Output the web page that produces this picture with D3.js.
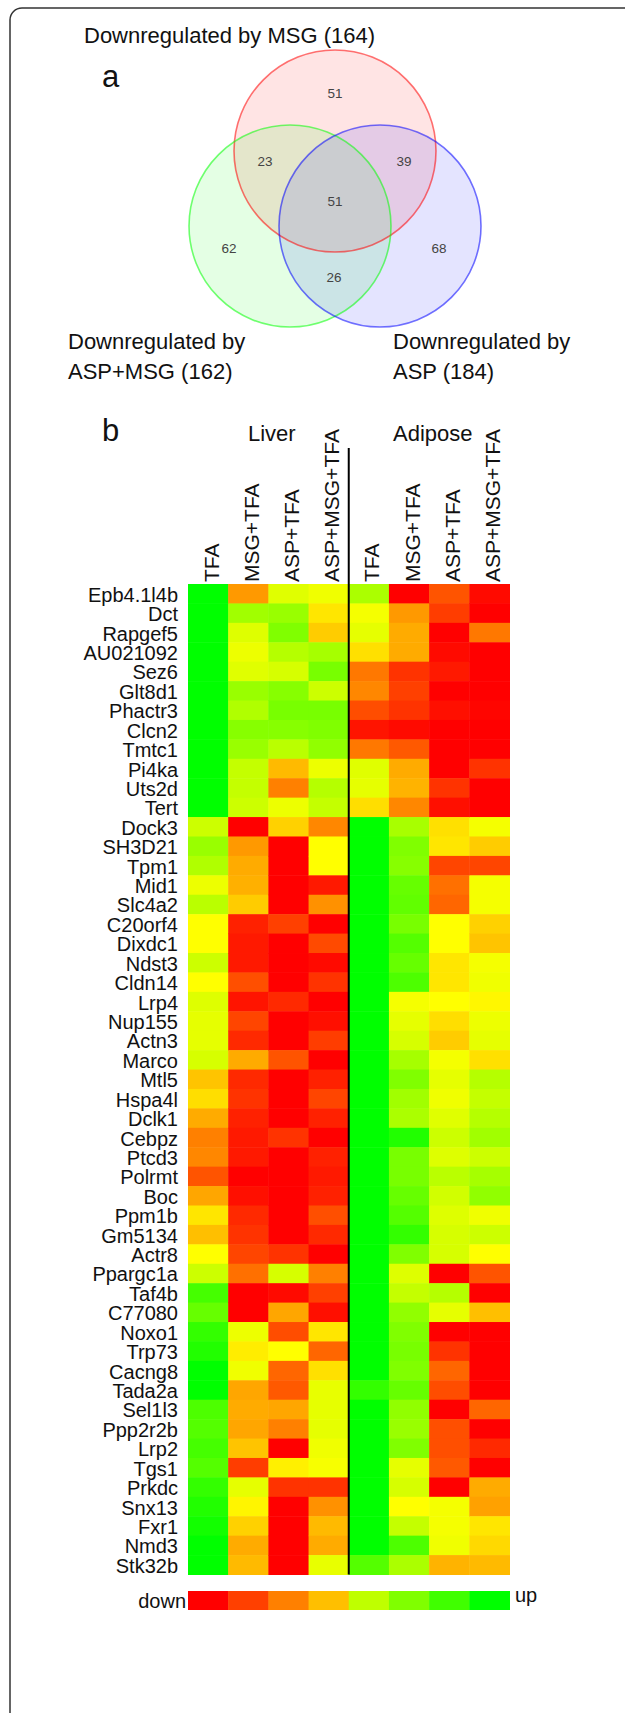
<!DOCTYPE html>
<html>
<head>
<meta charset="utf-8">
<script src="https://cdn.jsdelivr.net/npm/d3@7"></script>
<style>
  body { margin: 0; background: #fff; }
  svg text { font-family: "Liberation Sans", Arial, Helvetica, sans-serif; fill: #111; }
</style>
</head>
<body>
<svg id="chart" width="625" height="1713"></svg>
<script>
// ---- panel a : Venn counts ----
var vennSets = ["MSG", "ASP+MSG", "ASP"];
var vennTotals = [164, 162, 184];
// regions: MSG only, MSG&ASP+MSG, MSG&ASP, all, ASP+MSG only, ASP only, ASP+MSG&ASP
var vennRegions = ["m", "mg", "ma", "all", "g", "a", "ga"];
var vennCounts = [51, 23, 39, 51, 62, 68, 26];

// ---- panel b : heatmap ----
var genes = ["Epb4.1l4b", "Dct", "Rapgef5", "AU021092", "Sez6", "Glt8d1", "Phactr3", "Clcn2",
  "Tmtc1", "Pi4ka", "Uts2d", "Tert", "Dock3", "SH3D21", "Tpm1", "Mid1", "Slc4a2", "C20orf4",
  "Dixdc1", "Ndst3", "Cldn14", "Lrp4", "Nup155", "Actn3", "Marco", "Mtl5", "Hspa4l", "Dclk1",
  "Cebpz", "Ptcd3", "Polrmt", "Boc", "Ppm1b", "Gm5134", "Actr8", "Ppargc1a", "Taf4b", "C77080",
  "Noxo1", "Trp73", "Cacng8", "Tada2a", "Sel1l3", "Ppp2r2b", "Lrp2", "Tgs1", "Prkdc", "Snx13",
  "Fxr1", "Nmd3", "Stk32b"];
var tissues = ["Liver", "Adipose"];
var treatments = ["TFA", "MSG+TFA", "ASP+TFA", "ASP+MSG+TFA"];

// relative expression, -1 = down (red), 0 = yellow, 1 = up (green)
var liverTFA = [1, 1, 1, 1, 1, 1, 1, 1, 1, 1, 1, 1,
  0.2, 0.4, 0.31, 0.07, 0.27, 0, 0, 0.2,
  0, 0.13, 0.1, 0.1, 0.16, -0.23, -0.13, -0.33, -0.5, -0.47,
  -0.67, -0.35, -0.1, -0.25, 0, 0.2, 0.73, 0.6, 0.8, 0.87,
  1, 1, 0.7, 0.67, 0.73, 0.67, 0.8, 0.87, 0.93, 1, 1];
var liverMSG = [-0.4, 0.37, 0.13, 0.07, 0.12, 0.4, 0.31, 0.47, 0.4, 0.23, 0.23, 0.2,
  -1, -0.4, -0.33, -0.31, -0.2, -0.87, -0.9, -0.9,
  -0.69, -0.92, -0.73, -0.84, -0.33, -0.84, -0.8, -0.87, -0.9, -0.9,
  -1, -0.94, -0.84, -0.8, -0.73, -0.56, -1, -1, 0.07, -0.07,
  0.06, -0.35, -0.33, -0.35, -0.23, -0.76, 0.1, -0.04, -0.18, -0.33, -0.27];
var liverASP = [0.12, 0.4, 0.5, 0.29, 0.16, 0.47, 0.53, 0.47, 0.27, -0.27, -0.5, 0.07,
  -0.18, -1, -1, -1, -1, -0.75, -1, -1,
  -1, -0.84, -1, -1, -0.67, -1, -1, -1, -0.8, -1,
  -1, -1, -1, -1, -0.8, 0.16, -0.96, -0.35, -0.7, 0,
  -0.6, -0.65, -0.35, -0.5, -1, -0.06, -0.8, -1, -1, -1, -1];
var liverASPMSG = [0.06, -0.1, -0.2, 0.35, 0.53, 0.2, 0.53, 0.5, 0.43, 0.07, 0.29, 0.23,
  -0.47, 0, 0, -0.9, -0.43, -1, -0.71, -0.96,
  -0.8, -1, -0.94, -0.76, -1, -0.87, -0.73, -0.87, -1, -0.87,
  -0.9, -0.87, -0.69, -0.84, -1, -0.5, -0.75, -0.94, -0.1, -0.6,
  -0.12, 0.09, 0.1, 0.1, 0.06, 0.03, -0.8, -0.43, -0.27, -0.33, 0.09];
var adiposeTFA = [0.33, 0.04, 0.1, -0.12, -0.53, -0.47, -0.7, -0.92, -0.53, 0.12, 0.1, -0.13,
  1, 1, 1, 1, 1, 1, 1, 1,
  1, 1, 1, 1, 1, 1, 1, 1, 1, 1,
  1, 1, 1, 1, 1, 1, 1, 1, 1, 1,
  1, 0.8, 1, 1, 1, 1, 1, 1, 1, 1, 0.67];
var adiposeMSG = [-1, -0.4, -0.33, -0.33, -0.8, -0.75, -0.8, -0.96, -0.65, -0.33, -0.3, -0.47,
  0.34, 0.5, 0.47, 0.6, 0.62, 0.53, 0.67, 0.6,
  0.7, 0.04, 0.1, 0.16, 0.35, 0.5, 0.37, 0.33, 0.87, 0.53,
  0.53, 0.6, 0.67, 0.8, 0.5, 0.13, 0.23, 0.43, 0.5, 0.53,
  0.5, 0.6, 0.43, 0.4, 0.5, 0.1, 0.16, 0, 0.23, 0.7, 0.33];
var adiposeASP = [-0.67, -0.76, -1, -0.96, -0.9, -1, -0.94, -1, -1, -1, -0.8, -0.94,
  -0.12, -0.1, -0.73, -0.56, -0.6, 0, 0, -0.1,
  -0.1, 0, -0.13, -0.2, 0.04, 0.1, 0.06, 0.12, 0.2, 0.13,
  0.27, 0.18, 0.13, 0.16, 0.16, -1, 0.29, 0.1, -1, -0.8,
  -0.6, -0.7, -1, -0.69, -0.69, -0.65, -1, 0.04, 0.04, 0.06, -0.3];
var adiposeASPMSG = [-0.96, -1, -0.53, -1, -1, -1, -0.98, -1, -1, -0.8, -1, -1,
  0.04, -0.2, -0.73, 0.04, 0.04, -0.18, -0.23, 0.04,
  0.06, -0.03, 0.07, 0.1, -0.12, 0.29, 0.23, 0.29, 0.37, 0.2,
  0.35, 0.43, 0.06, 0.2, 0, -0.67, -1, -0.25, -1, -1,
  -1, -1, -0.6, -1, -0.84, -1, -0.33, -0.37, -0.1, -0.15, -0.27];

var legendValues = [-1, -0.75, -0.5, -0.25, 0.25, 0.5, 0.75, 1];

var columns = [liverTFA, liverMSG, liverASP, liverASPMSG,
  adiposeTFA, adiposeMSG, adiposeASP, adiposeASPMSG];

var svg = d3.select("#chart");

// outer frame (runs off the right and bottom edge)
svg.append("rect")
  .attr("x", 10).attr("y", 8)
  .attr("width", 700).attr("height", 1800)
  .attr("rx", 12)
  .attr("fill", "none")
  .attr("stroke", "#333")
  .attr("stroke-width", 1.5);

// ---------- Venn ----------
var r = 101;
var circles = [
  { set: vennSets[0], cx: 335, cy: 151, color: "#ff0000" },
  { set: vennSets[1], cx: 290, cy: 226, color: "#00ff00" },
  { set: vennSets[2], cx: 380, cy: 226, color: "#0000ff" }
];

var venn = svg.append("g").attr("class", "venn");

venn.selectAll("circle.fill")
  .data(circles)
  .enter().append("circle")
  .attr("class", "fill")
  .attr("cx", function (d) { return d.cx; })
  .attr("cy", function (d) { return d.cy; })
  .attr("r", r)
  .attr("fill", function (d) { return d.color; })
  .attr("fill-opacity", 0.105);

venn.selectAll("circle.edge")
  .data(circles)
  .enter().append("circle")
  .attr("class", "edge")
  .attr("cx", function (d) { return d.cx; })
  .attr("cy", function (d) { return d.cy; })
  .attr("r", r)
  .attr("fill", "none")
  .attr("stroke", function (d) { return d.color; })
  .attr("stroke-opacity", 0.55)
  .attr("stroke-width", 1.6);

var regionPos = {
  m: [335, 93], mg: [265, 161], ma: [404, 161], all: [335, 201],
  g: [229, 248], a: [439, 248], ga: [334, 277]
};

venn.selectAll("text.count")
  .data(vennRegions)
  .enter().append("text")
  .attr("class", "count")
  .attr("x", function (d) { return regionPos[d][0]; })
  .attr("y", function (d) { return regionPos[d][1] + 5; })
  .attr("text-anchor", "middle")
  .style("font-size", "13.5px")
  .style("fill", "#444")
  .text(function (d, i) { return vennCounts[i]; });

svg.append("text")
  .attr("x", 84).attr("y", 43)
  .style("font-size", "22px")
  .text("Downregulated by " + vennSets[0] + " (" + vennTotals[0] + ")");

svg.append("text")
  .attr("x", 102).attr("y", 87)
  .style("font-size", "31px")
  .text("a");

var leftLabel = svg.append("text").style("font-size", "22px");
leftLabel.append("tspan").attr("x", 68).attr("y", 349).text("Downregulated by");
leftLabel.append("tspan").attr("x", 68).attr("y", 379)
  .text(vennSets[1] + " (" + vennTotals[1] + ")");

var rightLabel = svg.append("text").style("font-size", "22px");
rightLabel.append("tspan").attr("x", 393).attr("y", 349).text("Downregulated by");
rightLabel.append("tspan").attr("x", 393).attr("y", 379)
  .text(vennSets[2] + " (" + vennTotals[2] + ")");

// ---------- Heatmap ----------
var colIndex = d3.range(columns.length);

var x = d3.scaleBand()
  .domain(colIndex)
  .range([188, 509.5]);

var y = d3.scaleBand()
  .domain(genes)
  .range([584, 1574.5]);

var color = d3.scaleLinear()
  .domain([-1, 0, 1])
  .range(["#ff0000", "#ffff00", "#00ff00"])
  .interpolate(d3.interpolateRgb);

svg.append("text")
  .attr("x", 102).attr("y", 441)
  .style("font-size", "31px")
  .text("b");

svg.selectAll("text.tissue")
  .data(tissues)
  .enter().append("text")
  .attr("class", "tissue")
  .attr("x", function (d, i) { return i === 0 ? 248 : 393; })
  .attr("y", 441)
  .style("font-size", "22px")
  .text(function (d) { return d; });

svg.selectAll("text.col")
  .data(colIndex)
  .enter().append("text")
  .attr("class", "col")
  .attr("transform", function (d) {
    return "translate(" + (x(d) + x.bandwidth() / 2 + 10.5) + ",582) rotate(-90)";
  })
  .style("font-size", "21px")
  .text(function (d) { return treatments[d % 4]; });

var cells = [];
columns.forEach(function (col, c) {
  col.forEach(function (v, g) {
    cells.push({ col: c, gene: genes[g], value: v });
  });
});

svg.append("g").attr("class", "cells")
  .selectAll("rect")
  .data(cells)
  .enter().append("rect")
  .attr("x", function (d) { return x(d.col); })
  .attr("y", function (d) { return y(d.gene); })
  .attr("width", x.bandwidth() + 0.5)
  .attr("height", y.bandwidth() + 0.5)
  .attr("fill", function (d) { return color(d.value); });

svg.selectAll("text.gene")
  .data(genes)
  .enter().append("text")
  .attr("class", "gene")
  .attr("x", 178)
  .attr("y", function (d) { return y(d) + y.bandwidth() / 2 + 8; })
  .attr("text-anchor", "end")
  .style("font-size", "20px")
  .text(function (d) { return d; });

// divider between liver and adipose
svg.append("line")
  .attr("x1", x(4)).attr("x2", x(4))
  .attr("y1", 448).attr("y2", 1574.5)
  .attr("stroke", "#000")
  .attr("stroke-width", 2);

// ---------- legend ----------
var legend = svg.append("g").attr("class", "legend");

legend.selectAll("rect")
  .data(legendValues)
  .enter().append("rect")
  .attr("x", function (d, i) { return x(i); })
  .attr("y", 1591)
  .attr("width", x.bandwidth() + 0.5)
  .attr("height", 19)
  .attr("fill", function (d) { return color(d); });

legend.append("text")
  .attr("x", 186).attr("y", 1608)
  .attr("text-anchor", "end")
  .style("font-size", "20px")
  .text("down");

legend.append("text")
  .attr("x", 515).attr("y", 1602)
  .style("font-size", "20px")
  .text("up");
</script>
</body>
</html>
